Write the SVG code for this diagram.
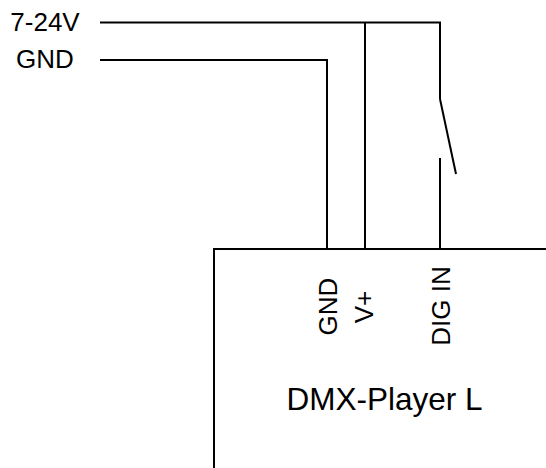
<svg xmlns="http://www.w3.org/2000/svg" width="546" height="468" viewBox="0 0 546 468">
<style>
.w{fill:none;stroke:#000;stroke-width:2;stroke-linecap:butt;stroke-linejoin:miter}
.t{font-family:"Liberation Sans",Arial,sans-serif;font-size:26px;fill:#000}
.big{font-size:31.5px}
</style>
<rect width="546" height="468" fill="#fff"/>
<g id="supply-labels">
<text class="t" x="45" y="31" text-anchor="middle">7-24V</text>
<text class="t" x="45" y="68" text-anchor="middle">GND</text>
</g>
<g id="switch">
<path class="w" d="M440,99 L456,174"/>
</g>
<g id="dmx-player">
<path class="w" d="M214,468 V249 H546"/>
<text class="t" transform="translate(337,306.5) rotate(-90)" text-anchor="middle">GND</text>
<text class="t" transform="translate(373,307) rotate(-90)" text-anchor="middle">V+</text>
<text class="t" transform="translate(450,306) rotate(-90)" text-anchor="middle">DIG IN</text>
<text class="t big" x="384.5" y="410" text-anchor="middle">DMX-Player L</text>
</g>
<g id="connectors">
<path class="w" d="M100,22.5 H440 V99"/>
<path class="w" d="M365,22.5 V249"/>
<path class="w" d="M100,60 H327 V249"/>
<path class="w" d="M440,158 V249"/>
</g>
</svg>
